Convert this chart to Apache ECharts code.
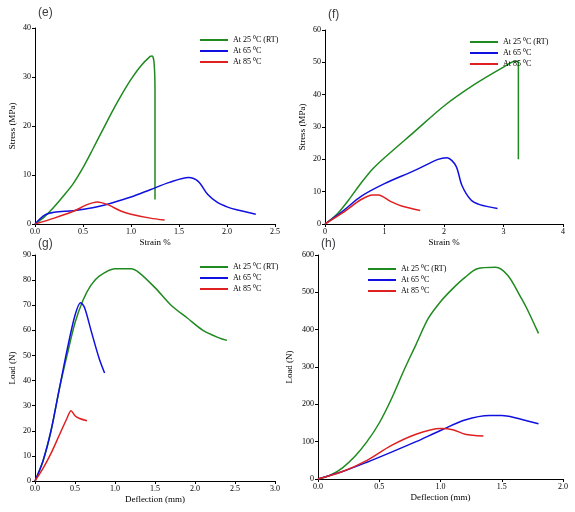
<!DOCTYPE html><html><head><meta charset="utf-8"><script src="https://cdn.jsdelivr.net/npm/echarts@6/dist/echarts.min.js"></script></head><body style="margin:0"><div id="c" style="width:575px;height:512px"></div><script>
const names=['At 25 ⁰C (RT)','At 65 ⁰C','At 85 ⁰C'];
const colors=['#1f8a1f','#1010e0','#e02020'];
const panelLabels=['(e)','(f)','(g)','(h)'];
const xNames=['Strain %','Strain %','Deflection (mm)','Deflection (mm)'];
const yNames=['Stress (MPa)','Stress (MPa)','Load (N)','Load (N)'];
const xMax=[2.5,4,3,2],xInt=[0.5,1,0.5,0.5],yMax=[40,60,90,600],yInt=[10,10,10,100];
const e25=[[0,0],[0.1,1.5],[0.2,3.5],[0.3,5.8],[0.4,8.3],[0.5,11.5],[0.6,15.2],[0.7,19],[0.8,22.8],[0.9,26.3],[1.0,29.5],[1.1,32.2],[1.2,34.2],[1.22,34.3],[1.24,33],[1.25,27],[1.25,5]];
const e65=[[0,0],[0.1,1.8],[0.2,2.4],[0.4,2.7],[0.6,3.3],[0.8,4.3],[1.0,5.5],[1.2,7],[1.4,8.5],[1.6,9.5],[1.7,8.7],[1.8,6],[1.9,4.4],[2.0,3.5],[2.1,2.9],[2.3,2]];
const e85=[[0,0],[0.2,1.2],[0.4,2.6],[0.55,4],[0.65,4.5],[0.75,4],[0.9,2.6],[1.0,2],[1.2,1.2],[1.35,0.8]];
const f25=[[0,0],[0.2,3],[0.4,7.5],[0.6,12.5],[0.8,17],[1.0,20.5],[1.5,28.5],[2.0,36.5],[2.5,43],[3.0,48.5],[3.2,50.3],[3.25,50],[3.25,20]];
const f65=[[0,0],[0.3,4],[0.6,8.5],[1.0,12.5],[1.5,16.5],[1.9,20],[2.05,20.5],[2.2,18],[2.3,12],[2.45,7.5],[2.6,6],[2.9,4.8]];
const f85=[[0,0],[0.3,3.5],[0.6,7.5],[0.8,9],[0.9,9],[1.1,7],[1.3,5.5],[1.6,4.2]];
const g25=[[0,0],[0.1,8],[0.2,20],[0.3,36],[0.4,50],[0.5,63],[0.6,72],[0.7,78],[0.8,81.5],[1.0,84.5],[1.2,84.5],[1.3,83],[1.5,77],[1.7,70],[1.9,65],[2.1,60],[2.3,57],[2.4,56]];
const g65=[[0,0],[0.1,8],[0.2,20],[0.3,36],[0.4,52],[0.5,66],[0.57,71],[0.62,69],[0.7,60],[0.8,49],[0.87,43]];
const g85=[[0,0],[0.1,5],[0.2,11],[0.3,18],[0.4,25],[0.45,28],[0.5,26],[0.55,25],[0.65,24]];
const h25=[[0,0],[0.1,10],[0.2,30],[0.3,60],[0.4,100],[0.5,150],[0.6,215],[0.7,290],[0.8,360],[0.9,430],[1.0,475],[1.1,510],[1.2,540],[1.3,563],[1.45,567],[1.55,545],[1.65,490],[1.7,460],[1.8,390]];
const h65=[[0,0],[0.2,20],[0.4,45],[0.6,72],[0.8,100],[1.0,130],[1.2,158],[1.4,170],[1.5,170],[1.6,165],[1.8,148]];
const h85=[[0,0],[0.2,20],[0.4,50],[0.6,90],[0.8,120],[1.0,135],[1.1,132],[1.2,120],[1.35,115]];
const data=[[e25,e65,e85],[f25,f65,f85],[g25,g65,g85],[h25,h65,h85]];
const grids=[{left:35,top:28,width:240,height:196},{left:325,top:30,width:238,height:194},{left:35,top:255,width:240,height:226},{left:318,top:255,width:245,height:224}];
const F='Liberation Serif';
const fmt=[v=>v.toFixed(1),v=>String(v),v=>v.toFixed(1),v=>v.toFixed(1)];
const opt={animation:false,backgroundColor:'#fff',grid:grids,xAxis:[],yAxis:[],series:[],legend:[],title:[]};
const legLeft=[160,140,160,45],legTop=[3,3,3,5];
for(let i=0;i<4;i++){
 const g=grids[i];
 opt.title.push({text:panelLabels[i],left:g.left-2,top:g.top-(i<2?26:22),textStyle:{fontSize:12,fontWeight:'normal',fontFamily:'Arial'}});
 const ax={axisLine:{lineStyle:{color:'#000'}},axisTick:{lineStyle:{color:'#000'},length:3},splitLine:{show:false},axisLabel:{color:'#000',fontSize:8,fontFamily:F},nameTextStyle:{color:'#000',fontSize:9,fontFamily:F}};
 opt.xAxis.push(Object.assign({},ax,{gridIndex:i,type:'value',min:0,max:xMax[i],interval:xInt[i],name:xNames[i],nameLocation:'middle',nameGap:14,axisLabel:Object.assign({},ax.axisLabel,{formatter:fmt[i],margin:4})}));
 opt.yAxis.push(Object.assign({},ax,{gridIndex:i,type:'value',min:0,max:yMax[i],interval:yInt[i],name:yNames[i],nameLocation:'middle',nameGap:i==3?24:18,axisLabel:Object.assign({},ax.axisLabel,{margin:4})}));
 for(let k=0;k<3;k++) opt.series.push({type:'line',name:names[k]+' '+i,xAxisIndex:i,yAxisIndex:i,data:data[i][k],showSymbol:false,smooth:0.3,lineStyle:{width:1.5,color:colors[k]},itemStyle:{color:colors[k]}});
 opt.legend.push({data:names.map(n=>n+' '+i),formatter:n=>n.slice(0,-2),orient:'vertical',left:g.left+legLeft[i],top:g.top+legTop[i],itemWidth:28,itemHeight:2,itemGap:3,icon:'rect',textStyle:{fontSize:8,fontFamily:F,color:'#000'}});
}
echarts.init(document.getElementById('c')).setOption(opt);
</script></body></html>
